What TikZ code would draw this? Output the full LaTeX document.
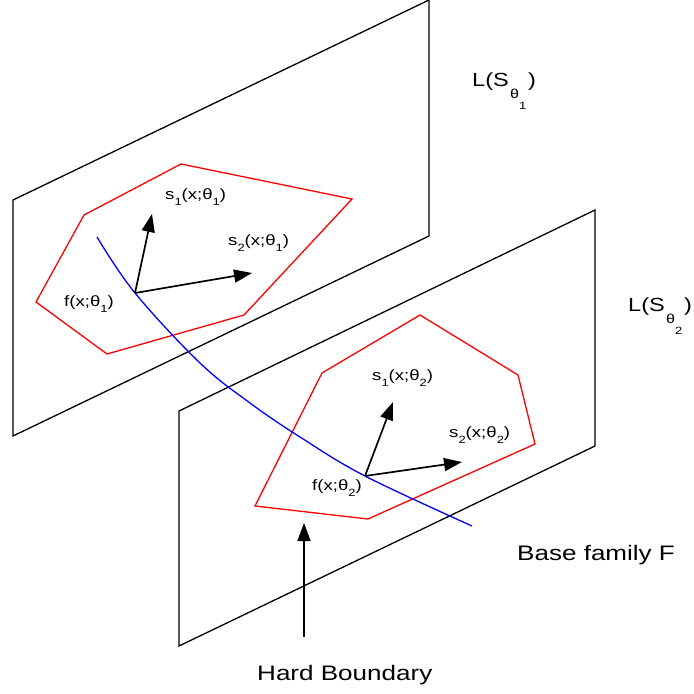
\documentclass[tikz,border=0pt]{standalone}
\usepackage{fontspec}
\setmainfont{Liberation Sans}
\usepackage{graphicx}
\usetikzlibrary{arrows.meta}
\newcommand\wide[1]{\scalebox{1.24}[1]{#1}}
\newcommand\lowsub[1]{\raisebox{-6.5pt}{\fontsize{10.5}{10.5}\selectfont #1}}
\newcommand\slab[2]{s\lowsub{#1}(x;θ\lowsub{#2})}
\newcommand\flab[1]{f(x;θ\lowsub{#1})}
\newcommand\llab[1]{L(S\hspace{1pt}\raisebox{-12pt}{\fontsize{13}{13}\selectfont θ\raisebox{-11pt}{\fontsize{10.5}{10.5}\selectfont #1}}\hspace{1.5pt})}
\begin{document}
\begin{tikzpicture}[x=1pt,y=-1pt,
  plane/.style={draw=black, line width=1.3pt, line join=miter},
  region/.style={draw=red, line width=1.3pt},
  fam/.style={draw=blue, line width=1.3pt},
  vec/.style={-{Triangle[length=18pt,width=13pt]}, line width=1.7pt},
  biglabel/.style={anchor=base west, inner sep=0pt, font=\fontsize{21}{25}\selectfont},
  llabel/.style={anchor=base west, inner sep=0pt, font=\fontsize{19}{23}\selectfont},
  smalllabel/.style={anchor=base west, inner sep=0pt, font=\fontsize{15}{18}\selectfont}]
\useasboundingbox (0,0) rectangle (694,694);

% planes
\draw[plane] (13,200) -- (429,0) -- (429,236) -- (13,436) -- cycle;
\draw[plane] (179,411) -- (595,210) -- (595,446) -- (179,646) -- cycle;

% feasible regions
\draw[region] (84,215) -- (181,164) -- (352,199) -- (244,315) -- (107,354) -- (36,302) -- cycle;
\draw[region] (322,373) -- (420,315) -- (518,375) -- (535,444) -- (368,519) -- (255,506) -- cycle;

% arrow anchors
\coordinate (o1) at (135,293);
\coordinate (o2) at (365,476);
\coordinate (s11) at (152,214);
\coordinate (s21) at (252,273);
\coordinate (s12) at (393,402);
\coordinate (s22) at (462,462);
\coordinate (hbfoot) at (304,637);
\coordinate (hbtip) at (304,523);

% base family curve
\draw[fam] plot[smooth, tension=0.6] coordinates {(97,237) (o1) (200,363) (250,403) (300,437) (o2) (472,526)};

% vectors
\draw[vec] (o1) -- (s11);
\draw[vec] (o1) -- (s21);
\draw[vec] (o2) -- (s12);
\draw[vec] (o2) -- (s22);
\draw[vec] (hbfoot) -- (hbtip);

% labels
\node[llabel] (L1) at (472,86) {\wide{\llab{1}}};
\node[llabel] (L2) at (628,311) {\wide{\llab{2}}};
\node[smalllabel] (t11) at (165,199) {\wide{\slab{1}{1}}};
\node[smalllabel] (t21) at (228,245) {\wide{\slab{2}{1}}};
\node[smalllabel] (f1) at (64,306) {\wide{\flab{1}}};
\node[smalllabel] (t12) at (372,380) {\wide{\slab{1}{2}}};
\node[smalllabel] (t22) at (449,437) {\wide{\slab{2}{2}}};
\node[smalllabel] (f2) at (312,490) {\wide{\flab{2}}};
\node[biglabel] (base) at (517,560) {\wide{Base family F}};
\node[biglabel] (hard) at (257,680) {\wide{Hard Boundary}};
\end{tikzpicture}
\end{document}
